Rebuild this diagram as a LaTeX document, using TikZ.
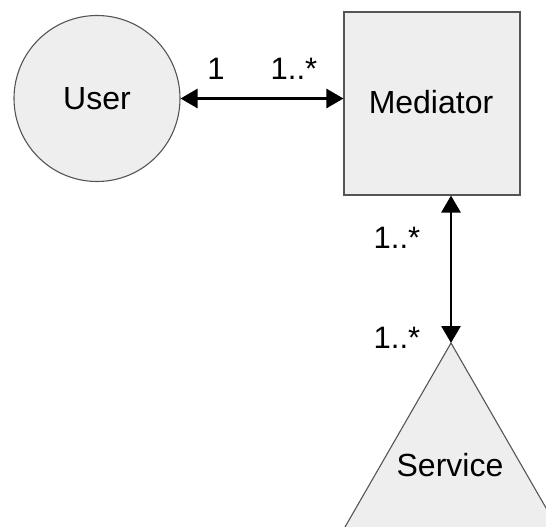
\documentclass[tikz,border=0pt]{standalone}
\usepackage{fontspec}
\setmainfont{Liberation Sans}
\usetikzlibrary{arrows.meta}
\definecolor{shapefill}{HTML}{EEEEEE}
\definecolor{shapeline}{HTML}{555555}
\begin{document}
\begin{tikzpicture}[x=1pt,y=-1pt,
  entity/.style={draw=shapeline,fill=shapefill,line width=1.1pt,inner sep=0pt},
  assoc/.style={line width=2.8pt,{Triangle[length=17pt,width=19pt]}-{Triangle[length=17pt,width=19pt]}},
  mult/.style={font=\fontsize{31}{31}\selectfont,anchor=base,inner sep=0pt},
  label/.style={font=\fontsize{32}{32}\selectfont,inner sep=0pt}]
  \useasboundingbox (0,0) rectangle (546,527);
  % participants
  \node[entity,circle,minimum size=166pt] (user) at (97,98.5) {};
  \node[label] (usertxt) at (97,98.5) {User};
  \node[entity,rectangle,minimum width=176pt,minimum height=183pt] (med) at (432,103.5) {};
  \node[label] (medtxt) at (431,102) {Mediator};
  \coordinate (svc) at (451,343);
  \begin{scope}
    \clip (0,0) rectangle (546,527);
    \draw[entity] (svc) -- (576,560) -- (326,560) -- cycle;
  \end{scope}
  \node[label] (svctxt) at (450,465) {Service};
  % associations
  \draw[assoc] (user.east) -- (user.east -| med.west);
  \draw[assoc] (med.south -| svc) -- (svc);
  % multiplicities
  \node[mult] (m1) at (216,80) {1};
  \node[mult] (m2) at (294,80) {1..*};
  \node[mult] (m3) at (397,248) {1..*};
  \node[mult] (m4) at (397,348) {1..*};
\end{tikzpicture}
\end{document}
